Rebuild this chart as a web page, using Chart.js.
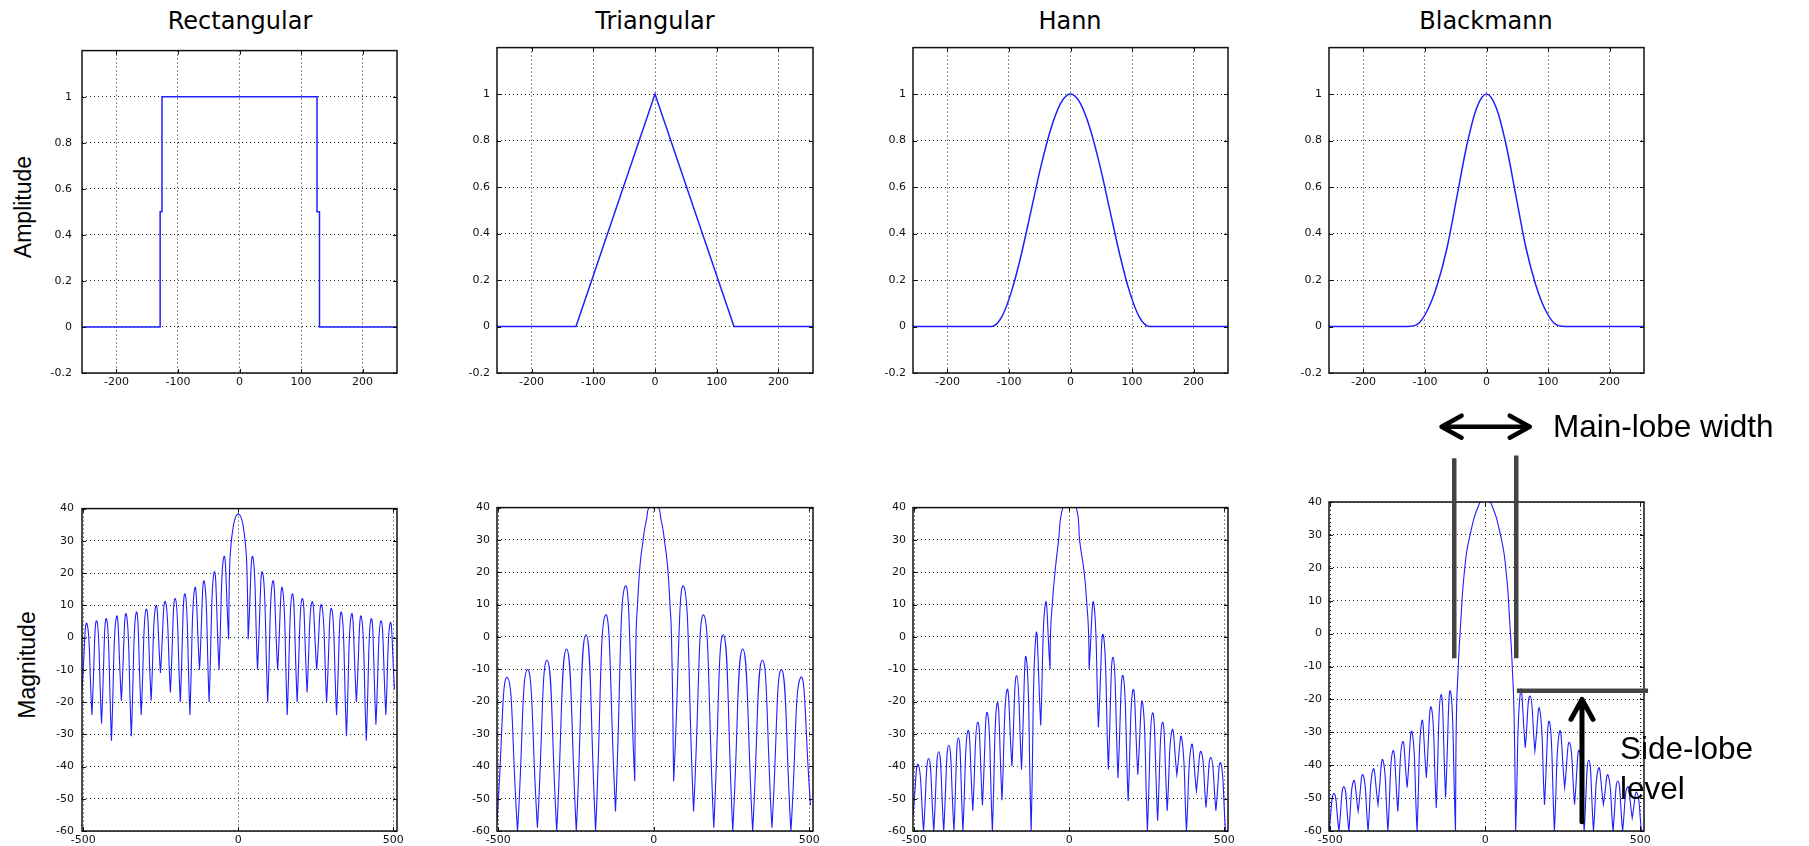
<!DOCTYPE html>
<html>
<head>
<meta charset="utf-8">
<script src="https://cdn.jsdelivr.net/npm/chart.js@4.4.1/dist/chart.umd.min.js"></script>
<style>
  body { margin: 0; background: #fff; width: 1809px; height: 846px; position: relative; overflow: hidden; }
  canvas { position: absolute; }
  .title { position: absolute; top: 9px; font-family: "DejaVu Sans", sans-serif; font-size: 24px; line-height: 24px; color: #000; transform: translateX(-50%); white-space: nowrap; }
  .ylab { position: absolute; font-family: "Liberation Sans", Arial, sans-serif; font-size: 23px; line-height: 23px; color: #000; transform: translate(-50%, -50%) rotate(-90deg); white-space: nowrap; }
  .note { position: absolute; font-family: "Liberation Sans", Arial, sans-serif; font-size: 31.5px; line-height: 31.5px; color: #000; white-space: nowrap; z-index: 2; }
</style>
</head>
<body>
<div class="title" style="left:240px">Rectangular</div>
<div class="title" style="left:655px">Triangular</div>
<div class="title" style="left:1070px">Hann</div>
<div class="title" style="left:1486px">Blackmann</div>
<div class="ylab" style="left:23px; top:207px">Amplitude</div>
<div class="ylab" style="left:27px; top:665px">Magnitude</div>
<div class="note" style="left:1553px; top:411px">Main-lobe width</div>
<div class="note" style="left:1620px; top:733px">Side-lobe</div>
<div class="note" style="left:1620px; top:773px">level</div>
<script>
// tick labels
const timeTicks = [-200, -100, 0, 100, 200];
const ampTicks = [-0.2, 0, 0.2, 0.4, 0.6, 0.8, 1];
const binTicks = [-500, 0, 500];
const dbTicks = [-60, -50, -40, -30, -20, -10, 0, 10, 20, 30, 40];

// window shapes (top row)
const rectX = [-256, -129, -129, -126, -126, 126, 126, 130, 130, 256];
const rectY = [0, 0, 0.5, 0.5, 1, 1, 0.5, 0.5, 0, 0];
const triX = [-256, -128, 0, 128, 256];
const triY = [0, 0, 1, 0, 0];
const hannX = [-256, -128, -112, -96, -80, -64, -48, -32, -16, 0, 16, 32, 48, 64, 80, 96, 112, 128, 256];
const hannY = [0, 0, 0.04, 0.15, 0.31, 0.5, 0.69, 0.85, 0.96, 1, 0.96, 0.85, 0.69, 0.5, 0.31, 0.15, 0.04, 0, 0];
const blackX = [-256, -128, -112, -96, -80, -64, -48, -32, -16, 0, 16, 32, 48, 64, 80, 96, 112, 128, 256];
const blackY = [0, 0, 0.01, 0.07, 0.18, 0.34, 0.56, 0.78, 0.94, 1, 0.94, 0.78, 0.56, 0.34, 0.18, 0.07, 0.01, 0, 0];

// spectra (bottom row): null positions, depth at each null, side-lobe peak between nulls (null = main lobe)
const rectNullX = [-504, -472, -441, -409, -377, -345, -313, -281, -251, -219, -187, -156, -125, -94, -62, -31,
  32, 62, 95, 127, 158, 190, 222, 253, 285, 317, 349, 381, 413, 444, 476, 504];
const rectNullDb = [-16, -24, -26.7, -32, -19.6, -30.6, -24, -19.6, -11, -17, -20, -24, -10, -20, -10, -0.5,
  -0.5, -10, -20, -10, -24, -20, -17, -10, -20, -24, -30.6, -20, -32, -27, -24, -16];
const rectLobeDb = [4.3, 5.2, 5.8, 6.4, 7.2, 7.8, 8.8, 9.8, 11.1, 12.1, 13.5, 15.2, 17.4, 20.2, 25, null,
  25, 20.2, 17.4, 15.2, 13.5, 12.1, 11, 10, 9, 7.8, 7.2, 6.4, 5.8, 5.2, 4.5];
const rectMainX = [-28, -24, -16, -8, 0, 8, 16, 24, 28];
const rectMainDb = [21, 28, 34.5, 37.5, 38.3, 37.5, 34.5, 28, 21];

const triNullX = [-504, -438, -374, -312, -249, -187, -123, -61, 64, 128, 193, 254, 318, 380, 441, 504];
const triNullDb = [-57, -60, -59, -60, -60, -60, -54, -44.6, -44.6, -54, -59, -60, -60, -59, -60, -52];
const triLobeDb = [-12.5, -10.1, -7.2, -3.7, 0.7, 6.8, 15.7, null, 15.7, 6.8, 0.7, -3.7, -7.2, -10.1, -12.5];
const triMainX = [-57, -51, -46, -41, -35, -30, -23, -16, 0, 16, 23, 30, 35, 41, 46, 51, 57];
const triMainDb = [0, 12, 20, 25, 29.4, 33, 36.5, 40, 42, 40, 36.5, 33, 29.4, 25, 20, 12, 0];

const hannNullX = [-504, -470, -437, -405, -372, -343, -311, -280, -248, -217, -185, -154, -123, -92, -62,
  64, 94, 126, 157, 190, 221, 252, 285, 316, 347, 378, 410, 441, 473, 504];
const hannNullDb = [-55, -60, -60, -60, -60, -60, -53.7, -52, -60, -50.5, -40, -41, -60, -27.4, -10,
  -10, -27.9, -41, -43.6, -50.7, -42.6, -60, -56.8, -53.7, -42.6, -60, -47.6, -52.7, -53.7, -60];
const hannLobeDb = [-39.5, -37.6, -35.5, -33.5, -31.2, -29, -26.4, -23.5, -20.5, -16.4, -12, -6.5, 0.5, 10.4, null,
  10.4, 0.5, -6.3, -12, -16.4, -20.3, -23.5, -26.4, -28.9, -31.2, -33.5, -35.5, -37.3, -39];
const hannMainX = [-60, -54, -46, -35, -21, 0, 23, 34, 48, 56, 62];
const hannMainDb = [2, 11, 20, 29.4, 40, 43, 40, 29.4, 20, 11, 2];

const blackNullX = [-504, -472, -440, -410, -378, -346, -314, -282, -252, -220, -190, -158, -128, -96,
  98, 129, 160, 191, 223, 256, 288, 319, 349, 381, 412, 443, 474, 504];
const blackNullDb = [-60, -60, -60, -54, -60, -52, -60, -54, -46.8, -60, -43.8, -53, -49.8, -60,
  -60, -34.7, -35.7, -52, -60, -46.8, -51.9, -60, -60, -51.9, -60, -60, -56, -60];
const blackLobeDb = [-48.6, -46.6, -44.8, -43, -41.3, -38.5, -35.7, -33, -30, -26.8, -22.5, -18.6, -17.6, null,
  -17.6, -19, -23, -26.8, -29.9, -33.2, -35.7, -38.5, -41, -43.1, -44.8, -46.6, -48.3];
const blackMainX = [-93, -88, -80, -66, -49, -17, 0, 17, 49, 66, 80, 88, 93];
const blackMainDb = [-25, -12, 2, 20, 30, 40, 41.5, 40, 30, 20, 2, -12, -25];

const BLUE = '#1f1fff';
const tickFont = { family: 'DejaVu Sans', size: 11 };

function pairs(xs, ys) {
  return xs.map((x, i) => ({ x: x, y: ys[i] }));
}

// each null is listed twice so the bezier keeps a sharp notch there
function spectrum(nullX, nullDb, lobeDb, mainX, mainDb) {
  const pts = [];
  for (let i = 0; i < nullX.length; i++) {
    pts.push({ x: nullX[i], y: nullDb[i] });
    pts.push({ x: nullX[i], y: nullDb[i] });
    if (i < lobeDb.length) {
      if (lobeDb[i] === null) {
        mainX.forEach((x, j) => pts.push({ x: x, y: mainDb[j] }));
      } else {
        pts.push({ x: (nullX[i] + nullX[i + 1]) / 2, y: lobeDb[i] });
      }
    }
  }
  return pts;
}

// box outline plus small inward ticks, matlab style
const frame = {
  id: 'frame',
  afterDatasetsDraw(chart) {
    const { ctx, chartArea: a, scales } = chart;
    ctx.save();
    ctx.strokeStyle = '#111';
    ctx.lineWidth = 1.5;
    ctx.strokeRect(a.left, a.top, a.right - a.left, a.bottom - a.top);
    ctx.lineWidth = 1;
    ctx.beginPath();
    scales.x.ticks.forEach(t => {
      const px = Math.round(scales.x.getPixelForValue(t.value)) + 0.5;
      ctx.moveTo(px, a.bottom); ctx.lineTo(px, a.bottom - 4);
      ctx.moveTo(px, a.top); ctx.lineTo(px, a.top + 4);
    });
    scales.y.ticks.forEach(t => {
      const py = Math.round(scales.y.getPixelForValue(t.value)) + 0.5;
      ctx.moveTo(a.left, py); ctx.lineTo(a.left + 4, py);
      ctx.moveTo(a.right, py); ctx.lineTo(a.right - 4, py);
    });
    ctx.stroke();
    ctx.restore();
  }
};

// grey markers and arrows on the blackmann spectrum
const lobeMarks = {
  id: 'lobeMarks',
  afterDraw(chart) {
    const { ctx } = chart;
    const X = v => chart.scales.x.getPixelForValue(v);
    const Y = v => chart.scales.y.getPixelForValue(v);
    ctx.save();
    ctx.strokeStyle = '#444';
    ctx.lineWidth = 4.5;
    ctx.beginPath();
    ctx.moveTo(X(-100), Y(-7.5)); ctx.lineTo(X(-100), Y(53.3));
    ctx.moveTo(X(100), Y(-7.5)); ctx.lineTo(X(100), Y(54.1));
    ctx.moveTo(X(102), Y(-17.4)); ctx.lineTo(X(525), Y(-17.4));
    ctx.stroke();

    ctx.strokeStyle = '#000';
    ctx.lineWidth = 4.5;
    ctx.lineCap = 'round';
    ctx.lineJoin = 'round';
    const ay = Y(62.9), ax0 = X(-141), ax1 = X(143.5);
    ctx.beginPath();
    ctx.moveTo(ax0, ay); ctx.lineTo(ax1, ay);
    ctx.moveTo(ax0 + 20, ay - 11); ctx.lineTo(ax0, ay); ctx.lineTo(ax0 + 20, ay + 11);
    ctx.moveTo(ax1 - 20, ay - 11); ctx.lineTo(ax1, ay); ctx.lineTo(ax1 - 20, ay + 11);
    ctx.stroke();

    const ux = X(312), uy0 = Y(-57.2), uy1 = Y(-20);
    ctx.lineWidth = 5;
    ctx.beginPath();
    ctx.moveTo(ux, uy0); ctx.lineTo(ux, uy1);
    ctx.moveTo(ux - 11, uy1 + 20); ctx.lineTo(ux, uy1); ctx.lineTo(ux + 11, uy1 + 20);
    ctx.stroke();
    ctx.restore();
  }
};

function panel(area, box, xr, xt, yr, yt, points, line, extra) {
  const [cl, ct, cr, cb] = area;
  const [bl, bt, br, bb] = box;
  const c = document.createElement('canvas');
  c.width = cr - cl;
  c.height = cb - ct;
  c.style.left = cl + 'px';
  c.style.top = ct + 'px';
  document.body.appendChild(c);

  const grid = { color: '#222', lineWidth: 1, drawTicks: false };
  const border = { display: false, dash: [1, 3] };

  return new Chart(c, {
    type: 'line',
    data: {
      datasets: [Object.assign({
        data: points,
        borderColor: BLUE,
        pointRadius: 0,
        fill: false
      }, line)]
    },
    options: {
      responsive: false,
      animation: false,
      events: [],
      layout: { padding: { left: 0, top: bt - ct, right: cr - br, bottom: 0 } },
      plugins: { legend: { display: false }, tooltip: { enabled: false } },
      scales: {
        x: {
          type: 'linear', min: xr[0], max: xr[1],
          afterBuildTicks: s => { s.ticks = xt.map(v => ({ value: v })); },
          afterFit: s => { s.height = cb - bb; },
          grid: grid, border: border,
          ticks: { font: tickFont, color: '#111', padding: 3, maxRotation: 0, autoSkip: false, callback: v => String(v) }
        },
        y: {
          type: 'linear', min: yr[0], max: yr[1],
          afterBuildTicks: s => { s.ticks = yt.map(v => ({ value: v })); },
          afterFit: s => { s.width = bl - cl; },
          grid: grid, border: border,
          ticks: { font: tickFont, color: '#111', padding: extra.ypad || 7, autoSkip: false, callback: v => String(v) }
        }
      }
    },
    plugins: [frame].concat(extra.plugins || [])
  });
}

const topLine = { borderWidth: 1.5, tension: 0 };
const smoothLine = { borderWidth: 1.5, cubicInterpolationMode: 'monotone' };
const specLine = { borderWidth: 1.1, tension: 0.55 };
const tx = [-256, 256], ty = [-0.2, 1.2];
const fx = [-504, 512], fy = [-60, 40];

// top row: window shapes
panel([22, 34, 407, 399], [82, 42, 397, 373], tx, timeTicks, ty, ampTicks, pairs(rectX, rectY), topLine, { ypad: 10 });
panel([437, 34, 823, 399], [497, 42, 813, 373], tx, timeTicks, ty, ampTicks, pairs(triX, triY), topLine, {});
panel([853, 34, 1238, 399], [913, 42, 1228, 373], tx, timeTicks, ty, ampTicks, pairs(hannX, hannY), smoothLine, {});
panel([1269, 34, 1654, 399], [1329, 42, 1644, 373], tx, timeTicks, ty, ampTicks, pairs(blackX, blackY), smoothLine, {});

// bottom row: magnitude spectra
panel([22, 494, 407, 846], [82, 502, 397, 831], fx, binTicks, fy, dbTicks,
  spectrum(rectNullX, rectNullDb, rectLobeDb, rectMainX, rectMainDb), specLine, { ypad: 8 });
panel([437, 494, 823, 846], [497, 502, 813, 831], fx, binTicks, fy, dbTicks,
  spectrum(triNullX, triNullDb, triLobeDb, triMainX, triMainDb), specLine, {});
panel([853, 494, 1238, 846], [913, 502, 1228, 831], fx, binTicks, fy, dbTicks,
  spectrum(hannNullX, hannNullDb, hannLobeDb, hannMainX, hannMainDb), specLine, {});
panel([1269, 400, 1809, 846], [1329, 502, 1644, 831], fx, binTicks, fy, dbTicks,
  spectrum(blackNullX, blackNullDb, blackLobeDb, blackMainX, blackMainDb), specLine, { plugins: [lobeMarks] });
</script>
</body>
</html>
